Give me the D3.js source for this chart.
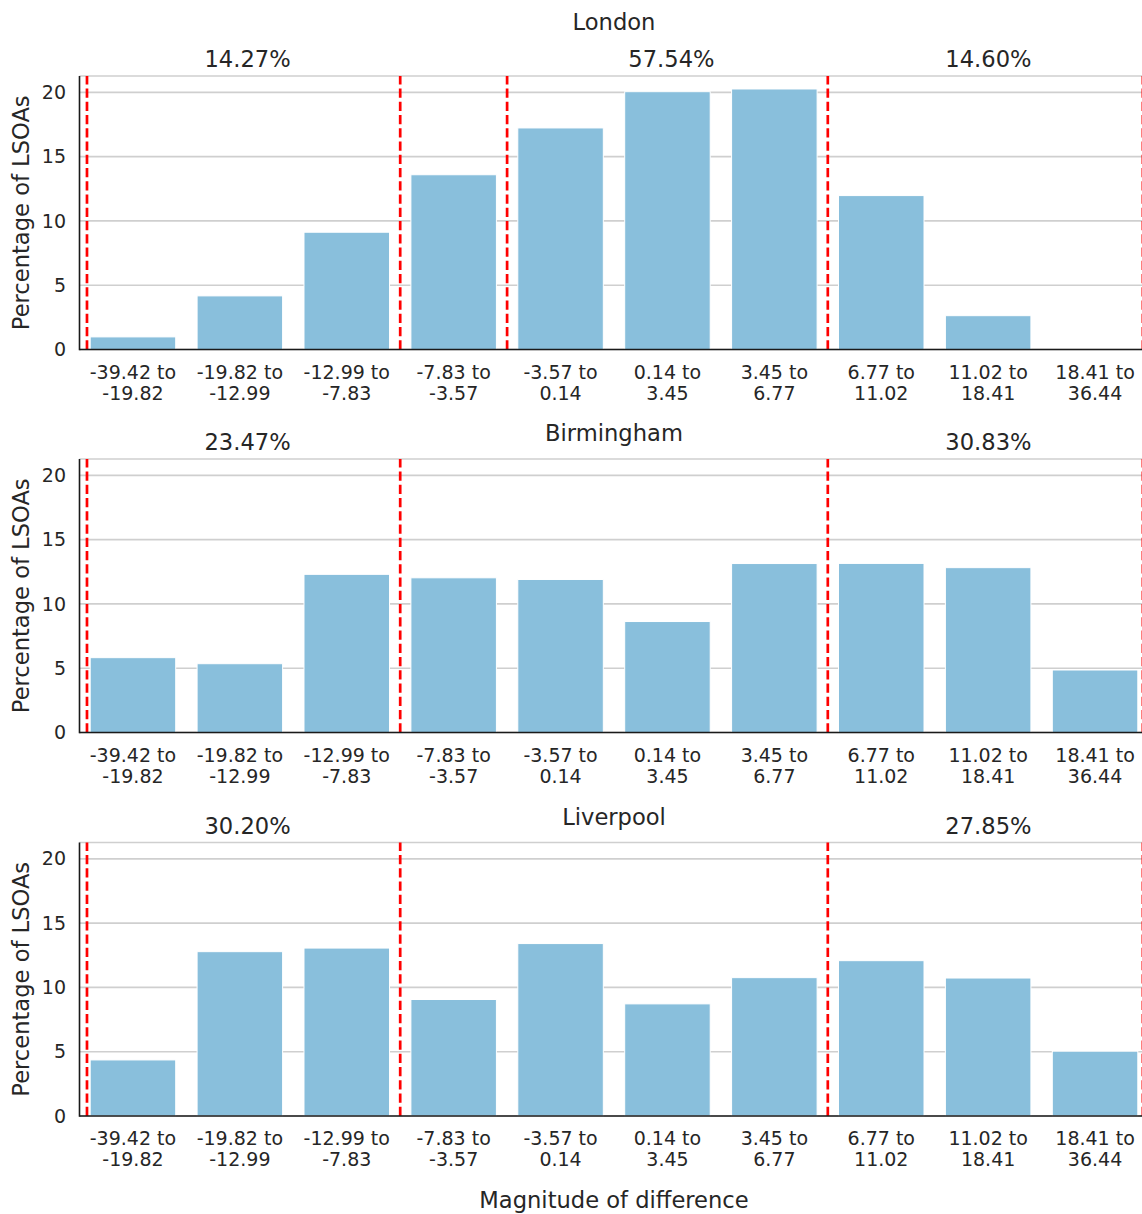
<!DOCTYPE html>
<html>
<head>
<meta charset="utf-8">
<script src="https://cdn.jsdelivr.net/npm/d3@7"></script>
<style>
  body { margin: 0; background: #fff; }
  svg { display: block; font-family: "DejaVu Sans", sans-serif; }
</style>
</head>
<body>
<svg id="chart" width="1142" height="1214"></svg>
<script>
// Difference bins (x categories)
const categories = [
  "-39.42 to -19.82", "-19.82 to -12.99", "-12.99 to -7.83", "-7.83 to -3.57",
  "-3.57 to 0.14", "0.14 to 3.45", "3.45 to 6.77", "6.77 to 11.02",
  "11.02 to 18.41", "18.41 to 36.44"
];
const yTicks = [0, 5, 10, 15, 20];

// Percentage of LSOAs in each bin
const londonValues     = [0.98, 4.17, 9.12, 13.59, 17.23, 20.05, 20.26, 11.97, 2.63, 0.00];
const birminghamValues = [5.82, 5.35, 12.30, 12.03, 11.90, 8.63, 13.14, 13.15, 12.82, 4.86];
const liverpoolValues  = [4.36, 12.78, 13.06, 9.06, 13.41, 8.72, 10.76, 12.08, 10.73, 5.04];

// Cut-off positions (in bin-index units) marked with dashed lines
const londonCutoffs     = [-0.43, 2.5, 3.5, 6.5, 9.447];
const birminghamCutoffs = [-0.43, 2.5, 6.5, 9.447];
const liverpoolCutoffs  = [-0.43, 2.5, 6.5, 9.447];

// Share of LSOAs between pairs of cut-offs
const londonShares     = [14.27, 57.54, 14.60];
const londonSpans      = [[-0.43, 2.5], [3.5, 6.5], [6.5, 9.43]];
const birminghamShares = [23.47, 30.83];
const birminghamSpans  = [[-0.43, 2.5], [6.5, 9.43]];
const liverpoolShares  = [30.20, 27.85];
const liverpoolSpans   = [[-0.43, 2.5], [6.5, 9.43]];

const panels = [
  { title: "London",     values: londonValues,     cutoffs: londonCutoffs,     shares: londonShares,     spans: londonSpans },
  { title: "Birmingham", values: birminghamValues, cutoffs: birminghamCutoffs, shares: birminghamShares, spans: birminghamSpans },
  { title: "Liverpool",  values: liverpoolValues,  cutoffs: liverpoolCutoffs,  shares: liverpoolShares,  spans: liverpoolSpans }
];

// Layout
const plotLeft = 79.5, plotRight = 1148.5;
const panelTops = [76, 459, 842.5];
const plotHeight = 273.5;
const titleGaps = [46.5, 18, 18];
const yMax = 21.27;
const textColor = "#262626";
const barColor = "#89bfdc";
const gridColor = "#cfcfcf";

const svg = d3.select("#chart");

const x = d3.scaleBand()
  .domain(categories)
  .range([plotLeft, plotRight])
  .paddingInner(0.2)
  .paddingOuter(0.1);

const xPos = d3.scaleLinear()
  .domain([-0.5, categories.length - 0.5])
  .range([plotLeft, plotRight]);

const fmtShare = d3.format(".2f");

panels.forEach((p, i) => {
  const top = panelTops[i];
  const bottom = top + plotHeight;
  const y = d3.scaleLinear().domain([0, yMax]).range([bottom, top]);
  const g = svg.append("g");

  // horizontal grid
  g.append("g")
    .selectAll("line")
    .data(yTicks)
    .join("line")
    .attr("x1", plotLeft).attr("x2", plotRight)
    .attr("y1", d => y(d)).attr("y2", d => y(d))
    .attr("stroke", gridColor)
    .attr("stroke-width", 1.6);

  // top spine (light)
  g.append("line")
    .attr("x1", plotLeft).attr("x2", plotRight)
    .attr("y1", top).attr("y2", top)
    .attr("stroke", gridColor).attr("stroke-width", 1.6);

  // bars
  g.append("g")
    .selectAll("rect")
    .data(p.values.map((v, k) => ({ cat: categories[k], v })))
    .join("rect")
    .attr("x", d => x(d.cat))
    .attr("width", x.bandwidth())
    .attr("y", d => y(d.v))
    .attr("height", d => y(0) - y(d.v))
    .attr("fill", barColor)
    .attr("stroke", "#ffffff")
    .attr("stroke-width", d => d.v > 0 ? 1 : 0);

  // cut-off lines
  g.append("g")
    .selectAll("line")
    .data(p.cutoffs)
    .join("line")
    .attr("x1", d => xPos(d)).attr("x2", d => xPos(d))
    .attr("y1", bottom).attr("y2", top)
    .attr("stroke", "#ff0000")
    .attr("stroke-width", 2.7)
    .attr("stroke-dasharray", "9.25,4");

  // left and bottom spines
  g.append("line")
    .attr("x1", plotLeft).attr("x2", plotLeft)
    .attr("y1", top).attr("y2", bottom + 0.8)
    .attr("stroke", "#1a1a1a").attr("stroke-width", 1.6);
  g.append("line")
    .attr("x1", plotLeft).attr("x2", plotRight)
    .attr("y1", bottom).attr("y2", bottom)
    .attr("stroke", "#1a1a1a").attr("stroke-width", 1.6);

  // y axis labels
  const yAxis = g.append("g")
    .attr("transform", `translate(${plotLeft},0)`)
    .call(d3.axisLeft(y).tickValues(yTicks).tickSize(0).tickPadding(13.5));
  yAxis.select(".domain").remove();
  yAxis.selectAll("text")
    .attr("fill", textColor)
    .style("font-size", "19px")
    .style("font-family", "DejaVu Sans, sans-serif");

  // x axis labels, wrapped onto two lines
  const xAxis = g.append("g")
    .attr("transform", `translate(0,${bottom})`)
    .call(d3.axisBottom(x).tickSize(0).tickPadding(0));
  xAxis.select(".domain").remove();
  xAxis.selectAll("text")
    .attr("fill", textColor)
    .attr("y", 0).attr("dy", null)
    .style("font-size", "19px")
    .style("font-family", "DejaVu Sans, sans-serif")
    .each(function (d) {
      const parts = d.split(" to ");
      const t = d3.select(this).text(null);
      t.append("tspan").attr("x", 0).attr("y", 29).text(parts[0] + " to");
      t.append("tspan").attr("x", 0).attr("y", 50).text(parts[1]);
    });

  // y axis title
  g.append("text")
    .attr("transform", `translate(29,${(top + bottom) / 2}) rotate(-90)`)
    .attr("text-anchor", "middle")
    .attr("fill", textColor)
    .style("font-size", "22.6px")
    .text("Percentage of LSOAs");

  // share labels above the plot
  g.append("g")
    .selectAll("text")
    .data(p.shares.map((s, k) => ({ s, span: p.spans[k] })))
    .join("text")
    .attr("x", d => xPos((d.span[0] + d.span[1]) / 2) + 4)
    .attr("y", top - 9)
    .attr("text-anchor", "middle")
    .attr("fill", textColor)
    .style("font-size", "22.6px")
    .text(d => fmtShare(d.s) + "%");

  // panel title
  g.append("text")
    .attr("x", (plotLeft + plotRight) / 2)
    .attr("y", top - titleGaps[i])
    .attr("text-anchor", "middle")
    .attr("fill", textColor)
    .style("font-size", "22.6px")
    .text(p.title);
});

// shared x axis title
svg.append("text")
  .attr("x", (plotLeft + plotRight) / 2)
  .attr("y", 1208)
  .attr("text-anchor", "middle")
  .attr("fill", textColor)
  .style("font-size", "22.6px")
  .text("Magnitude of difference");
</script>
</body>
</html>
